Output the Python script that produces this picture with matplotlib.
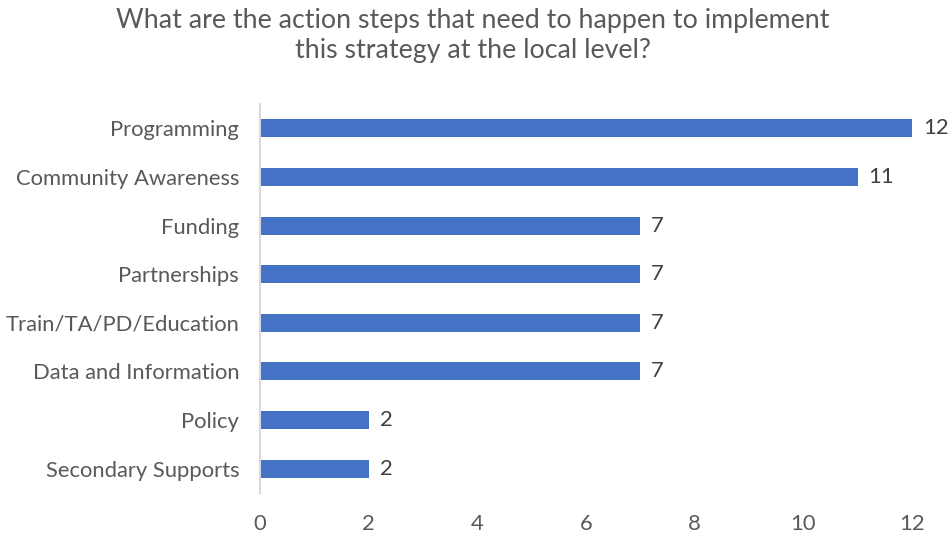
import matplotlib.pyplot as plt

# svar per åtgärdssteg
categories = ['Programming', 'Community Awareness', 'Funding', 'Partnerships',
              'Train/TA/PD/Education', 'Data and Information', 'Policy',
              'Secondary Supports']
counts = [12, 11, 7, 7, 7, 7, 2, 2]
xticks = [0, 2, 4, 6, 8, 10, 12]

plt.rcParams['font.family'] = ['Lato', 'DejaVu Sans']
grey = '#595959'
fs = 15.8

fig = plt.figure(figsize=(9.48, 5.39), dpi=100)
ax = fig.add_axes([260 / 948, 1 - 493 / 539, 652 / 948, 389 / 539])

y = list(range(len(categories)))
ax.barh(y, counts, height=0.37, color='#4472C4')
for yi, v in zip(y, counts):
    ax.text(v + 0.2, yi, str(v), va='center', ha='left', fontsize=fs, color='#404040')

ax.set_ylim(len(categories) - 0.5, -0.5)
ax.set_xlim(0, 12)
ax.set_yticks(y)
ax.set_yticklabels(categories, fontsize=fs, color=grey)
ax.set_xticks(xticks)
ax.set_xticklabels([str(t) for t in xticks], fontsize=fs, color=grey)
ax.tick_params(axis='y', length=0, pad=15)
ax.tick_params(axis='x', length=0, pad=15)

for s in ['top', 'right', 'bottom']:
    ax.spines[s].set_visible(False)
ax.spines['left'].set_color('#d9d9d9')
ax.spines['left'].set_linewidth(1.5)

fig.text(0.499, 0.985, 'What are the action steps that need to happen to implement\nthis strategy at the local level?',
         ha='center', va='top', fontsize=19.3, color=grey, linespacing=1.25)

fig.savefig('out.png', dpi=100)
